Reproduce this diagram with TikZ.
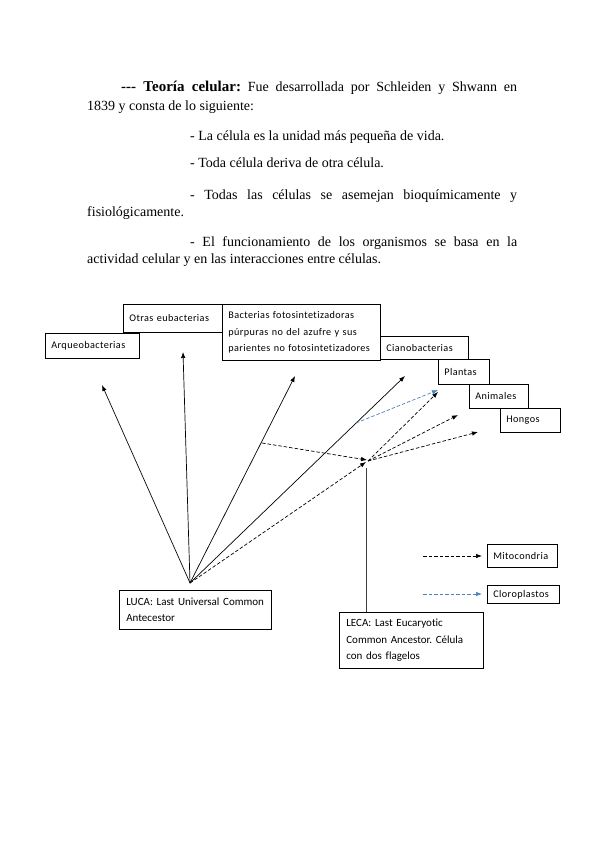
\documentclass[tikz,border=0pt]{standalone}
\usepackage{fontspec}
\setmainfont{Liberation Serif}
\newfontfamily\plainserif{Liberation Serif}
\newfontfamily\boxfont{Carlito}[LetterSpace=4,Ligatures={NoCommon}]
\newfontfamily\lboxfont{Carlito}[Ligatures={NoCommon}]
\usetikzlibrary{arrows.meta}
\definecolor{offblue}{RGB}{79,129,189}
\frenchspacing
\begin{document}
\begin{tikzpicture}[x=1pt,y=-1pt,
  txt/.style={anchor=base west,inner sep=0pt,font=\fontsize{14}{16}\selectfont},
  cbox/.style={draw,fill=white,line width=0.7pt,anchor=north west,inner xsep=6pt,inner ysep=0pt,align=left,font=\boxfont\fontsize{10.2}{16.5}\selectfont},
  lbox/.style={draw,fill=white,line width=0.7pt,anchor=north west,inner xsep=7pt,inner ysep=0pt,align=left,font=\lboxfont\fontsize{11}{16.5}\selectfont},
  solidarr/.style={line width=0.7pt,-{Latex[length=6pt,width=4.5pt]}},
  dasharr/.style={line width=0.7pt,dash pattern=on 3.5pt off 2pt,-{Latex[length=6pt,width=4.5pt]}},
  bluearr/.style={dasharr,draw=offblue,-{Latex[length=6pt,width=4.5pt,fill=offblue]}}
]
\useasboundingbox[fill=white] (0,0) rectangle (599,848);

% ---- text block
\node[txt] (l1) at (121,92) {\makebox[396pt][s]{{\fontsize{15}{16}\selectfont\bfseries{\plainserif ---} Teoría celular:} Fue desarrollada por Schleiden y Shwann en}};
\node[txt] (l2) at (87,111) {1839 y consta de lo siguiente:};
\node[txt] (b1) at (190,140) {- La célula es la unidad más pequeña de vida.};
\node[txt] (b2) at (190,167) {- Toda célula deriva de otra célula.};
\node[txt] (b3) at (190,199) {\makebox[327pt][s]{- Todas las células se asemejan bioquímicamente y}};
\node[txt] (b3b) at (87,216) {fisiológicamente.};
\node[txt] (b4) at (190,246) {\makebox[327pt][s]{- El funcionamiento de los organismos se basa en la}};
\node[txt] (b4b) at (87,263) {actividad celular y en las interacciones entre células.};

% ---- boxes
\node[cbox,minimum width=99pt,minimum height=28pt,text width=87pt] (otras) at (123,304) {Otras eubacterias};
\node[cbox,minimum width=94pt,minimum height=25pt,text width=82pt] (arq) at (45,333) {Arqueobacterias};
\node[cbox,minimum width=158pt,minimum height=56pt,text width=146pt] (bact) at (222,304) {Bacterias fotosintetizadoras\\púrpuras no del azufre y sus\\parientes no fotosintetizadores};
\node[cbox,minimum width=88pt,minimum height=23pt,text width=76pt] (ciano) at (380,336) {Cianobacterias};
\node[cbox,minimum width=51pt,minimum height=25pt,text width=39pt] (plantas) at (438,359) {Plantas};
\node[cbox,minimum width=59pt,minimum height=24pt,text width=47pt] (animales) at (469,384) {Animales};
\node[cbox,minimum width=60pt,minimum height=24pt,text width=48pt] (hongos) at (500,408) {Hongos};

\node[lbox,minimum width=152pt,minimum height=39pt,text width=138pt] (luca) at (119,590) {LUCA: Last Universal Common\\Antecestor};
\node[lbox,minimum width=144pt,minimum height=56pt,text width=130pt] (leca) at (339,612) {LECA: Last Eucaryotic\\Common Ancestor. Célula\\con dos flagelos};

\node[cbox,minimum width=70pt,minimum height=23pt,text width=58pt] (mito) at (487,544) {Mitocondria};
\node[cbox,minimum width=72pt,minimum height=18pt,text width=60pt] (cloro) at (487,585) {Cloroplastos};

% ---- coordinates
\coordinate (lp) at (190,583);
\coordinate (tA) at (102,385);
\coordinate (tO) at (183,352);
\coordinate (tB) at (295,376);
\coordinate (tC) at (405,376);
\coordinate (br) at (262,443);
\coordinate (bs) at (356,423);
\coordinate (lecaIn) at (366,462);
\coordinate (lecaIn2) at (367,460);
\coordinate (lecaPt) at (368,461);
\coordinate (lecaTop) at (366,468);
\coordinate (tP) at (438,392);
\coordinate (tAn) at (458,415);
\coordinate (tH) at (478,432);
\coordinate (tPb) at (438,390);
\coordinate (m1) at (423,556);
\coordinate (m2) at (482,556);
\coordinate (c1) at (423,594);
\coordinate (c2) at (482,594);

% ---- arrows
\draw[solidarr] (lp) -- (tA);
\draw[solidarr] (lp) -- (tO);
\draw[solidarr] (lp) -- (tB);
\draw[solidarr] (lp) -- (tC);
\draw[dasharr] (lp) -- (lecaIn);
\draw[dasharr] (br) -- (lecaIn2);
\draw[dasharr] (lecaPt) -- (tP);
\draw[dasharr] (lecaPt) -- (tAn);
\draw[dasharr] (lecaPt) -- (tH);
\draw[bluearr] (bs) -- (tPb);
\draw[line width=0.9pt,draw=black!75] (lecaTop) -- (leca.north -| lecaTop);
\draw[dasharr] (m1) -- (m2);
\draw[bluearr] (c1) -- (c2);
\end{tikzpicture}
\end{document}
